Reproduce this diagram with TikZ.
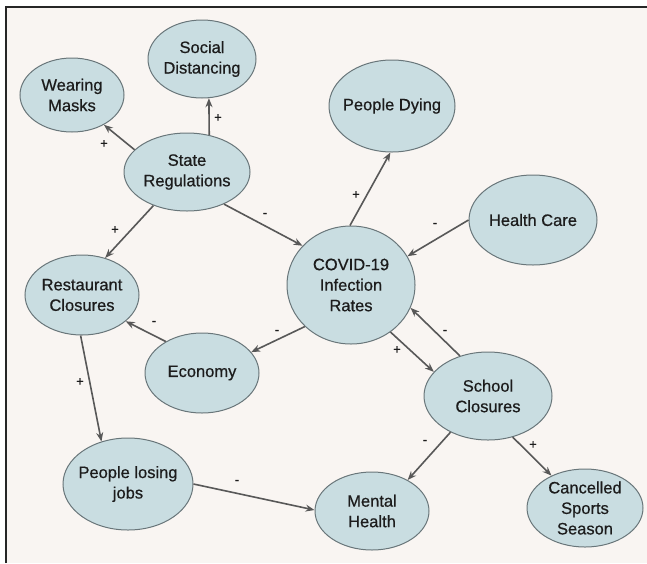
\documentclass[tikz,border=0pt]{standalone}
\usepackage{fontspec}
\setmainfont{Liberation Sans}
\newfontfamily\medfont{Liberation Sans}[FakeBold=0.6]
\usetikzlibrary{shapes.geometric,arrows.meta}
\definecolor{bg}{RGB}{249,245,242}
\definecolor{ellfill}{RGB}{201,221,225}
\definecolor{elldraw}{RGB}{105,118,122}
\definecolor{arrcol}{RGB}{88,88,88}
\definecolor{txt}{RGB}{28,28,28}
\begin{document}
\begin{tikzpicture}[x=1pt,y=-1pt,
  ell/.style={ellipse,draw=elldraw,line width=1pt,fill=ellfill,inner sep=0pt},
  lbl/.style={font=\medfont\fontsize{16.5}{20.5}\selectfont,text=txt,align=center},
  arr/.style={draw=arrcol,line width=1.6pt,-{Stealth[length=9pt,width=7pt]}},
  sgn/.style={font=\medfont\fontsize{13}{13}\selectfont,text=txt,inner sep=0pt}]
\useasboundingbox (0,0) rectangle (647,563);
\fill[white] (0,0) rectangle (647,563);
\fill[bg] (6,7) rectangle (647,563);
\draw[line width=1.5pt,black!85] (6,563) -- (6,7) -- (647,7);

\node[ell,minimum width=104,minimum height=74,label={[lbl]center:Wearing\\Masks}] (wm) at (72,95) {};
\node[ell,minimum width=108,minimum height=78,label={[lbl]center:Social\\Distancing}] (sd) at (202,59) {};
\node[ell,minimum width=126,minimum height=78,label={[lbl]center:State\\Regulations}] (sr) at (187,172) {};
\node[ell,minimum width=126,minimum height=92,label={[lbl]center:People Dying}] (pd) at (392,106) {};
\node[ell,minimum width=128,minimum height=90,label={[lbl]center:Health Care}] (hc) at (533,220) {};
\node[ell,minimum width=128,minimum height=118,label={[lbl]center:COVID-19\\Infection\\Rates}] (cov) at (351,285) {};
\node[ell,minimum width=114,minimum height=80,label={[lbl]center:Restaurant\\Closures}] (rc) at (82,295) {};
\node[ell,minimum width=114,minimum height=80,label={[lbl]center:Economy}] (ec) at (202,373) {};
\node[ell,minimum width=130,minimum height=92,label={[lbl]center:People losing\\jobs}] (plj) at (128,484) {};
\node[ell,minimum width=114,minimum height=78,label={[lbl]center:Mental\\Health}] (mh) at (372,511) {};
\node[ell,minimum width=128,minimum height=88,label={[lbl]center:School\\Closures}] (sc) at (488,396) {};
\node[ell,minimum width=116,minimum height=78,label={[lbl]center:Cancelled\\Sports\\Season}] (css) at (585,508) {};

\draw[arr] (sr.157.9) -- (wm.-43.2);
\draw[arr] (sr.59) -- (sd.-80);
\draw[arr] (sr.225.7) -- (rc.58.8);
\draw[arr] (sr.-41.6) -- (cov.141.9);
\draw[arr] (cov.91) -- (pd.-92.5);
\draw[arr] (hc.180) -- (cov.27.7);
\draw[arr] (cov.-138.7) -- (ec.23.9);
\draw[arr] (ec.139.8) -- (rc.-31);
\draw[arr] (rc.-92.9) -- (plj.122.8);
\draw[arr] (plj.0.9) -- (mh.179);
\draw[arr] (cov.-50.9) -- (sc.156.2);
\draw[arr] (sc.125.2) -- (cov.-21.6);
\draw[arr] (sc.-136.5) -- (mh.41.8);
\draw[arr] (sc.-59.4) -- (css.136.5);

\node[sgn] (s1) at (104,144) {+};
\node[sgn] (s2) at (218,118) {+};
\node[sgn] (s3) at (115,230) {+};
\node[sgn] (s4) at (265,215) {-};
\node[sgn] (s5) at (356,195) {+};
\node[sgn] (s6) at (435,225) {-};
\node[sgn] (s7) at (277,332) {-};
\node[sgn] (s8) at (154,323) {-};
\node[sgn] (s9) at (80,382) {+};
\node[sgn] (s10) at (237,482) {-};
\node[sgn] (s11) at (397,350) {+};
\node[sgn] (s12) at (445,332) {-};
\node[sgn] (s13) at (425,442) {-};
\node[sgn] (s14) at (533,445) {+};
\end{tikzpicture}
\end{document}
